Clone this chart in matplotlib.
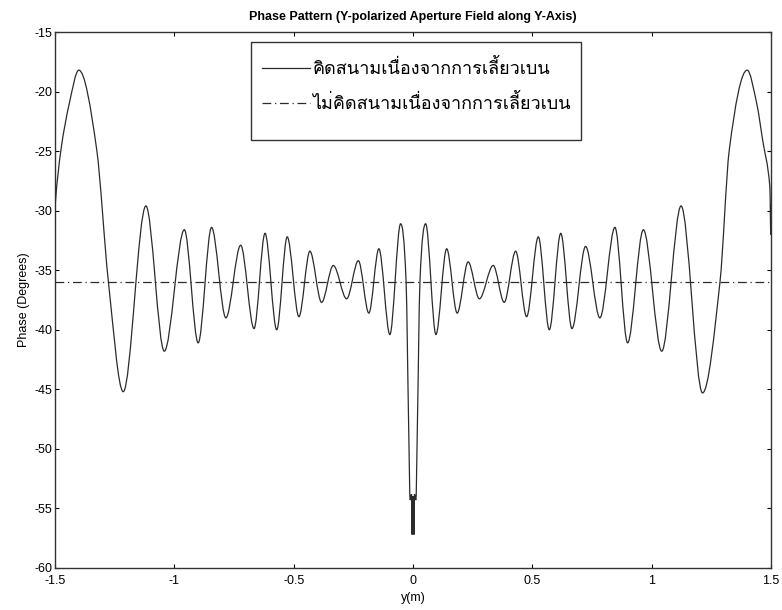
import matplotlib
matplotlib.use('Agg')
import numpy as np
import matplotlib.pyplot as plt
from matplotlib import font_manager, ft2font
from matplotlib.patches import Rectangle, PathPatch
from matplotlib.path import Path
from matplotlib.lines import Line2D

# curve: positions along y (m) and phase (deg)
y_pos = [-1.500, -1.499, -1.475, -1.440, -1.400, -1.325, -1.277, -1.214, -1.119,
         -1.042, -0.958, -0.900, -0.844, -0.784, -0.722, -0.666, -0.620, -0.571, -0.527,
         -0.478, -0.432, -0.383, -0.334, -0.278, -0.229, -0.185, -0.143, -0.097, -0.052,
         -0.029, -0.018, -0.012, -0.006, -0.004, -0.002, 0.000, 0.002, 0.004, 0.006,
         0.012, 0.018, 0.029,
         0.053, 0.096, 0.141, 0.185, 0.231, 0.278, 0.336, 0.382, 0.430, 0.476,
         0.525, 0.571, 0.619, 0.666, 0.723, 0.783, 0.846, 0.899, 0.965, 1.042,
         1.123, 1.213, 1.286, 1.325, 1.400, 1.440, 1.465, 1.495, 1.499, 1.500]
phase = [-31.6, -29.5, -24.9, -21.0, -18.2, -24.9, -35.8, -45.2, -29.6,
         -41.8, -31.6, -41.1, -31.4, -39.0, -32.9, -39.9, -31.9, -40.0, -32.2,
         -38.9, -33.4, -37.7, -34.6, -37.4, -34.2, -38.6, -33.2, -40.4, -31.1,
         -36.0, -48.4, -54.3, -53.8, -57.2, -54.0, -57.0, -54.0, -57.2, -53.8,
         -54.3, -48.4, -36.0,
         -31.1, -40.4, -33.2, -38.6, -34.3, -37.4, -34.6, -37.7, -33.4, -38.9,
         -32.2, -40.0, -31.9, -39.9, -33.0, -39.0, -31.4, -41.1, -31.6, -41.8,
         -29.6, -45.3, -36.0, -24.9, -18.2, -21.0, -24.1, -28.0, -32.0, -29.5]
no_diffraction = -36.0

labels = ['คิดสนามเนื่องจากการเลี้ยวเบน', 'ไม่คิดสนามเนื่องจากการเลี้ยวเบน']

# find an installed font that has Thai glyphs
thai_fonts = []
for f in font_manager.fontManager.ttflist:
    try:
        if 0x0E04 in ft2font.FT2Font(f.fname).get_charmap():
            thai_fonts.append(f.name)
    except Exception:
        pass
thai_family = list(dict.fromkeys(thai_fonts)) + ['DejaVu Sans']

plt.rcParams['font.family'] = ['Liberation Sans', 'DejaVu Sans']
plt.rcParams['axes.unicode_minus'] = False


def smooth_path(xs, ys):
    # cubic bezier segments through the read points, flat at peaks/troughs
    xs = np.asarray(xs, float)
    ys = np.asarray(ys, float)
    n = len(xs)
    m = np.zeros(n)
    for i in range(1, n - 1):
        if (ys[i] - ys[i - 1]) * (ys[i + 1] - ys[i]) > 0:
            m[i] = (ys[i + 1] - ys[i - 1]) / (xs[i + 1] - xs[i - 1])
    verts = [(xs[0], ys[0])]
    codes = [Path.MOVETO]
    for i in range(n - 1):
        h = xs[i + 1] - xs[i]
        lo, hi = min(ys[i], ys[i + 1]), max(ys[i], ys[i + 1])
        c1 = (xs[i] + h / 3, np.clip(ys[i] + m[i] * h / 3, lo, hi))
        c2 = (xs[i + 1] - h / 3, np.clip(ys[i + 1] - m[i + 1] * h / 3, lo, hi))
        verts += [c1, c2, (xs[i + 1], ys[i + 1])]
        codes += [Path.CURVE4] * 3
    return Path(verts, codes)


fig = plt.figure(figsize=(7.82, 6.10), dpi=100)
ax = fig.add_axes([0.0703, 0.0689, 0.9157, 0.8786])

line_col = '#2b2b2b'
ax.add_patch(PathPatch(smooth_path(y_pos, phase), fill=False, edgecolor=line_col,
                       lw=0.9, zorder=3))
l1 = Line2D([], [], color=line_col, lw=0.9)
l2 = ax.axhline(no_diffraction, color=line_col, lw=0.9, ls=(0, (7, 3, 1, 3)))

ax.set_xlim(-1.5, 1.5)
ax.set_ylim(-60, -15)
ax.set_xticks([-1.5, -1, -0.5, 0, 0.5, 1, 1.5])
ax.set_xticklabels(['-1.5', '-1', '-0.5', '0', '0.5', '1', '1.5'])
ax.set_yticks(range(-60, -14, 5))
ax.tick_params(direction='in', top=True, right=True, length=3, width=0.8,
               labelsize=9, pad=2)
ax.tick_params(axis='x', pad=5)
for s in ax.spines.values():
    s.set_linewidth(1.0)
    s.set_color('#333333')

ax.set_title('Phase Pattern (Y-polarized Aperture Field along Y-Axis)',
             fontsize=9, fontweight='bold', pad=9)
ax.set_xlabel('y(m)', fontsize=9, labelpad=4)
ax.set_ylabel('Phase (Degrees)', fontsize=9, labelpad=3)

# MATLAB style legend box
ax.add_patch(Rectangle((0.274, 0.799), 0.461, 0.182, transform=ax.transAxes,
                       facecolor='white', edgecolor='#333333', lw=1.0, zorder=4))
leg = ax.legend([l1, l2], labels, loc='upper left', bbox_to_anchor=(0.267, 0.9798),
                frameon=False, handlelength=2.66, handletextpad=0.1, labelspacing=0.88,
                prop={'family': thai_family, 'size': 13})
leg.set_zorder(5)

fig.savefig('out.png', dpi=100)
